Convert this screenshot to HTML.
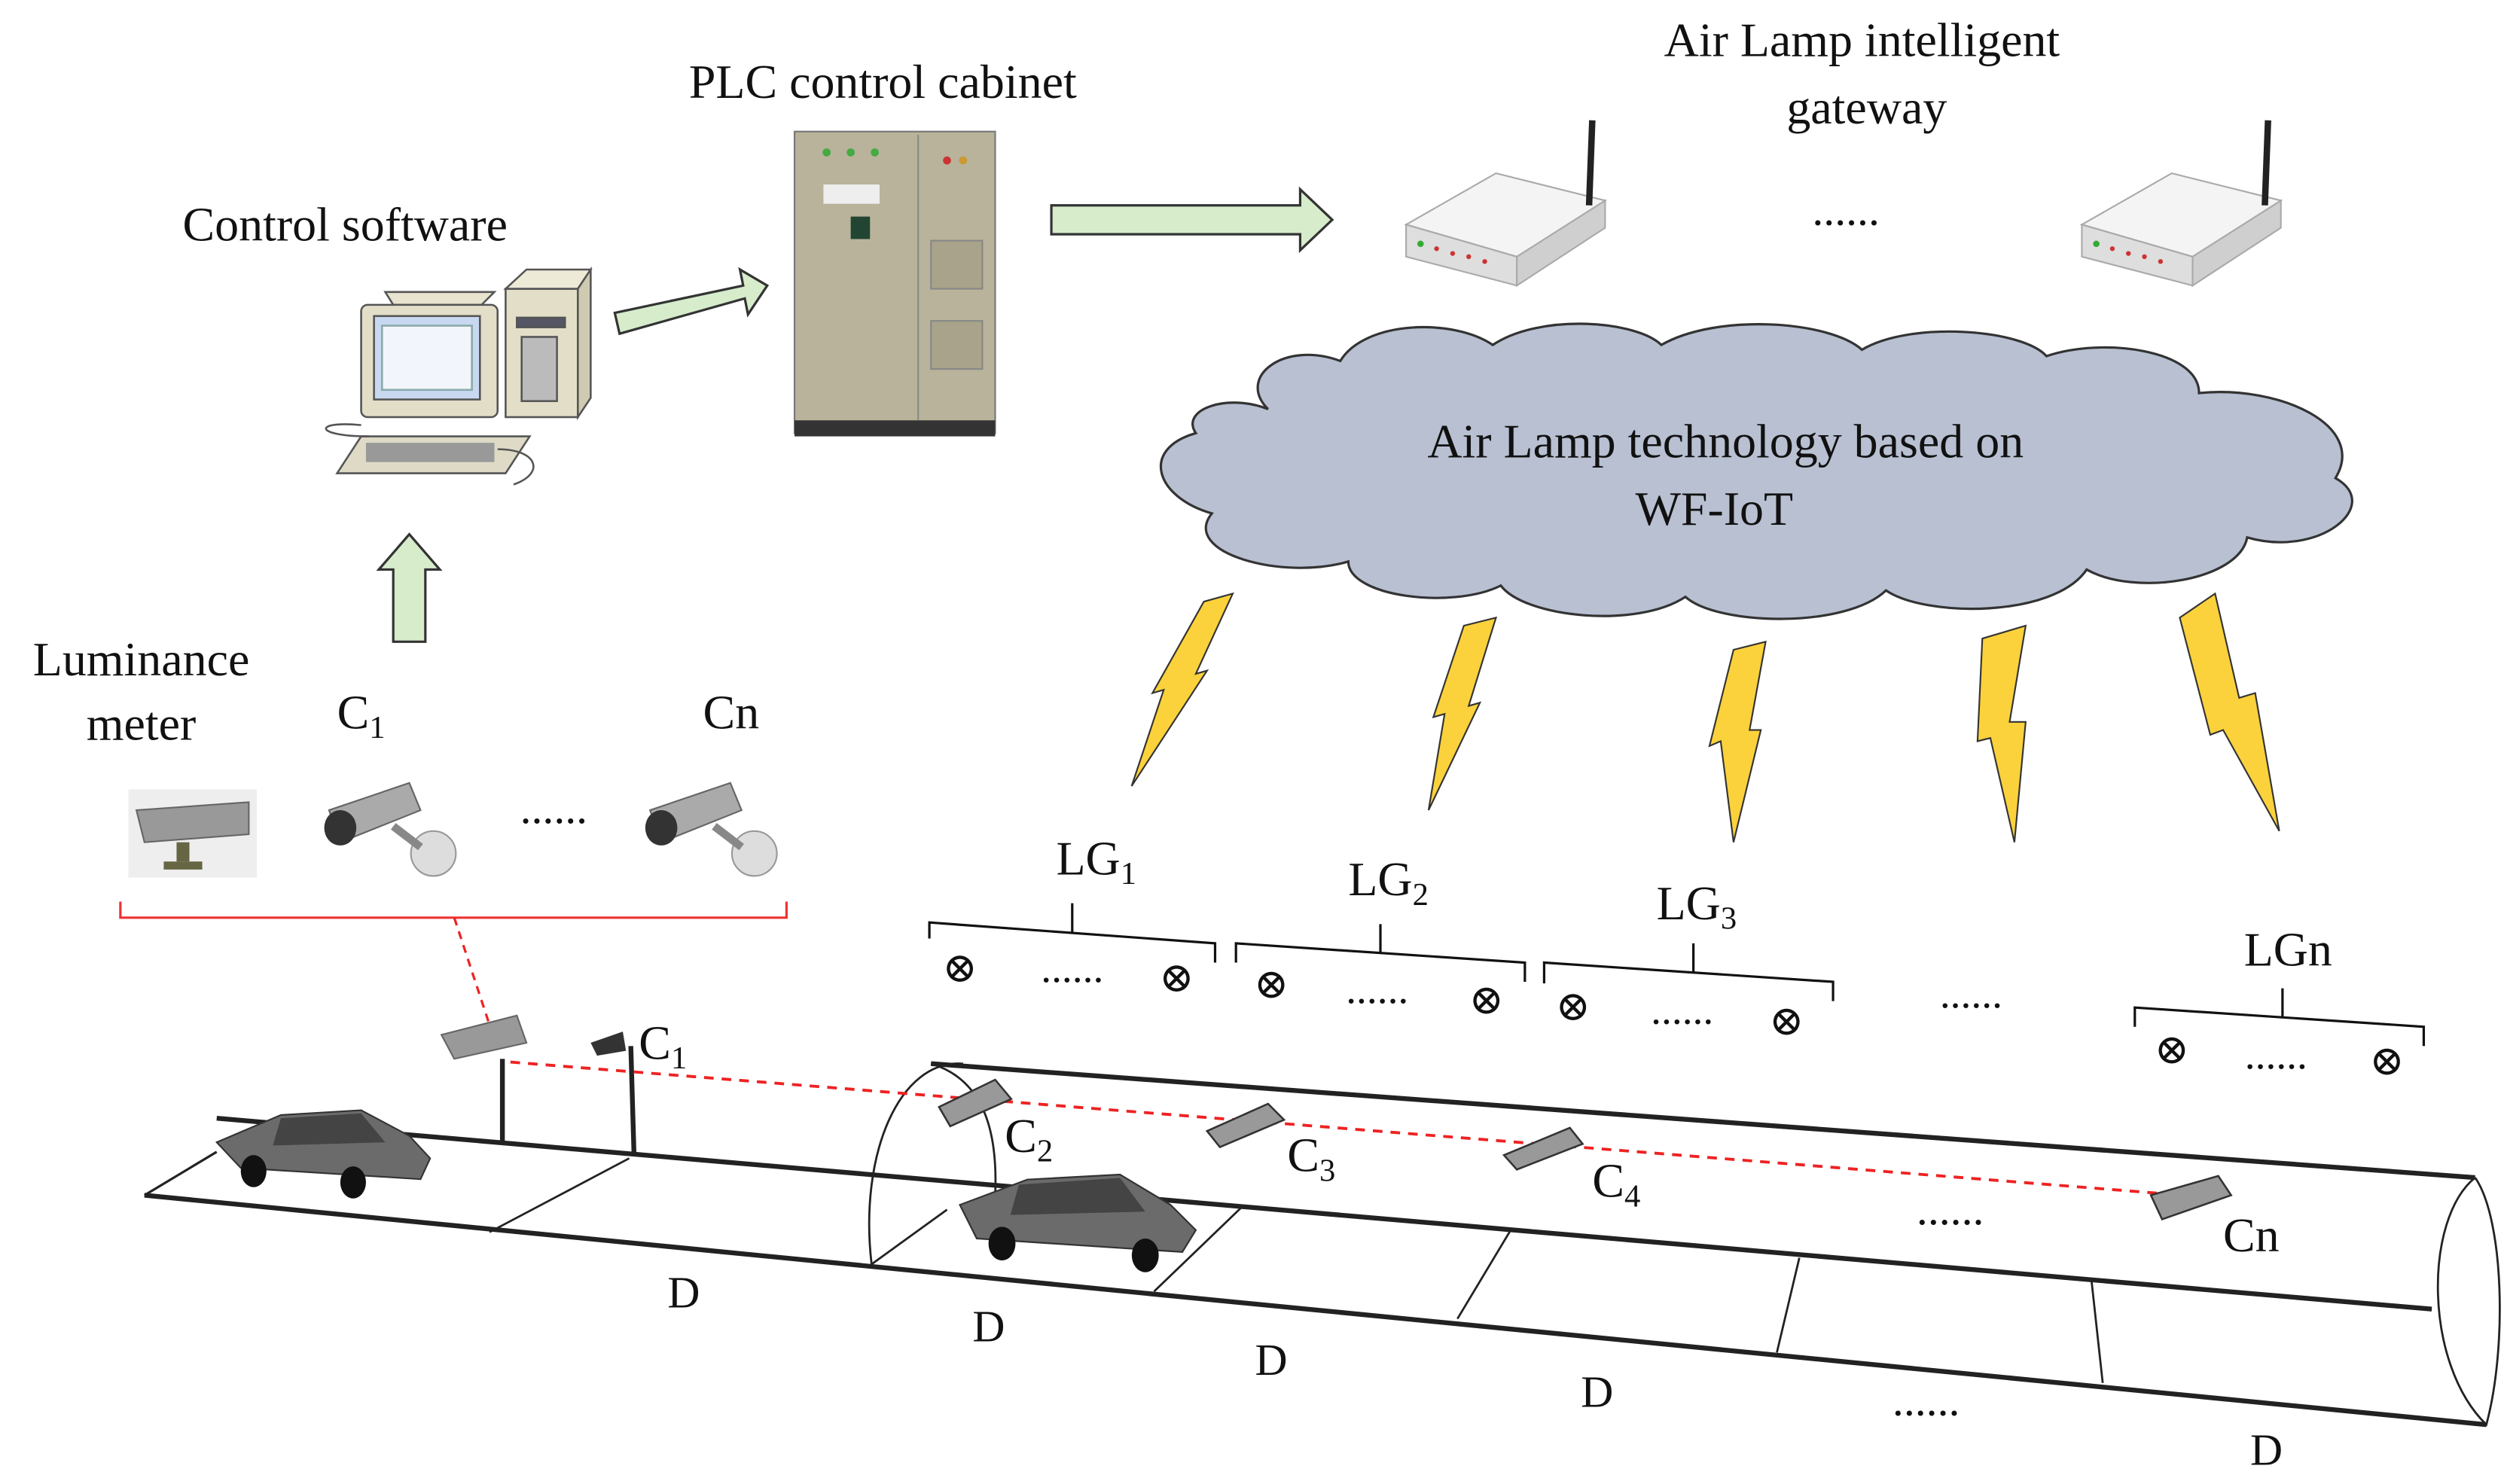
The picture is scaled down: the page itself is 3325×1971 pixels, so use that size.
<!DOCTYPE html>
<html><head><meta charset="utf-8"><style>
html,body{margin:0;padding:0;background:#fff;width:3325px;height:1971px;overflow:hidden}
svg{display:block}
svg text{font-family:"Liberation Serif","DejaVu Serif",serif;fill:#111}
</style></head><body>
<svg width="3325" height="1971" viewBox="0 0 1560 925" preserveAspectRatio="none" xmlns="http://www.w3.org/2000/svg" font-family="Liberation Serif, DejaVu Serif, serif">
<rect width="1560" height="925" fill="#fff"/>
<!-- titles -->
<text x="215" y="150" font-size="30" text-anchor="middle">Control software</text>
<text x="550" y="61" font-size="30" text-anchor="middle">PLC control cabinet</text>
<text x="1160" y="35" font-size="30" text-anchor="middle">Air Lamp intelligent</text>
<text x="1163" y="77" font-size="30" text-anchor="middle">gateway</text>
<text x="1150" y="140" font-size="28" text-anchor="middle">......</text>

<!-- computer -->
<g stroke="#555" stroke-width="1.2">
<path d="M245 190 L300 190 L308 182 L240 182 Z" fill="#e8e4d0"/>
<rect x="225" y="190" width="85" height="70" fill="#e2dec8" rx="4"/>
<rect x="233" y="197" width="66" height="52" fill="#c8d8f0"/>
<rect x="238" y="203" width="56" height="40" fill="#f2f5fb" stroke="#8aa"/>
<rect x="315" y="180" width="45" height="80" fill="#e2dec8"/>
<path d="M315 180 L328 168 L368 168 L360 180 Z" fill="#eeead8"/>
<path d="M360 180 L368 168 L368 248 L360 260Z" fill="#cfcab2"/>
<rect x="322" y="198" width="30" height="6" fill="#556"/>
<rect x="325" y="210" width="22" height="40" fill="#bbb"/>
<path d="M210 295 L225 272 L330 272 L315 295 Z" fill="#dedac6"/>
<rect x="228" y="276" width="80" height="12" fill="#999" stroke="none"/>
<path d="M225 265 C195 262 195 272 230 272 M310 280 C335 280 340 295 320 302" fill="none"/>
</g>
<!-- PLC -->
<rect x="495" y="82" width="125" height="188" fill="#b8b39a" stroke="#777"/>
<rect x="495" y="262" width="125" height="10" fill="#333"/>
<line x1="572" y1="84" x2="572" y2="262" stroke="#888"/>
<rect x="513" y="115" width="35" height="12" fill="#eee"/>
<rect x="530" y="135" width="12" height="14" fill="#243"/>
<rect x="580" y="150" width="32" height="30" fill="#a8a38a" stroke="#888"/>
<rect x="580" y="200" width="32" height="30" fill="#a8a38a" stroke="#888"/>
<g fill="#4a4">
<circle cx="515" cy="95" r="2.5"/><circle cx="530" cy="95" r="2.5"/><circle cx="545" cy="95" r="2.5"/><circle cx="590" cy="100" r="2.5" fill="#c33"/><circle cx="600" cy="100" r="2.5" fill="#c93"/></g>

<!-- green arrows -->
<g fill="#d6eccb" stroke="#333" stroke-width="1.5">
<path d="M383 195 L463 178 L461 168 L478 178 L466 196 L464 186 L386 208 Z"/>
<path d="M655 128 L810 128 L810 118 L830 137 L810 156 L810 146 L655 146 Z"/>
<path d="M245 400 L245 355 L236 355 L255 333 L274 355 L265 355 L265 400 Z"/>
</g>

<!-- routers -->
<g>
<path d="M876 140 L932 108 L1000 125 L945 160 Z" fill="#f4f4f4" stroke="#aaa"/>
<path d="M876 140 L945 160 L945 178 L876 160 Z" fill="#dedede" stroke="#aaa"/>
<path d="M945 160 L1000 125 L1000 142 L945 178 Z" fill="#cfcfcf" stroke="#aaa"/>
<line x1="990" y1="128" x2="992" y2="75" stroke="#222" stroke-width="4"/>
<g fill="#c33"><circle cx="895" cy="155" r="1.5"/><circle cx="905" cy="158" r="1.5"/><circle cx="915" cy="160" r="1.5"/><circle cx="925" cy="163" r="1.5"/></g>
<circle cx="885" cy="152" r="2" fill="#3a3"/>
</g>
<g transform="translate(421,0)">
<path d="M876 140 L932 108 L1000 125 L945 160 Z" fill="#f4f4f4" stroke="#aaa"/>
<path d="M876 140 L945 160 L945 178 L876 160 Z" fill="#dedede" stroke="#aaa"/>
<path d="M945 160 L1000 125 L1000 142 L945 178 Z" fill="#cfcfcf" stroke="#aaa"/>
<line x1="990" y1="128" x2="992" y2="75" stroke="#222" stroke-width="4"/>
<g fill="#c33"><circle cx="895" cy="155" r="1.5"/><circle cx="905" cy="158" r="1.5"/><circle cx="915" cy="160" r="1.5"/><circle cx="925" cy="163" r="1.5"/></g>
<circle cx="885" cy="152" r="2" fill="#3a3"/>
</g>

<!-- cloud -->
<path d="M790 255 C770 235 800 212 835 225 C850 200 905 198 930 215 C960 195 1020 200 1035 215 C1070 195 1140 200 1160 218 C1190 200 1260 205 1275 222 C1310 210 1370 218 1370 245 C1420 240 1475 265 1455 298 C1485 315 1445 348 1400 335 C1395 362 1330 372 1300 355 C1280 385 1200 385 1175 368 C1150 392 1070 390 1050 372 C1020 392 950 385 935 365 C905 380 840 372 840 350 C800 362 735 345 755 320 C720 310 710 280 745 270 C735 255 765 245 790 255 Z" fill="#b8c0d2" stroke="#333" stroke-width="1.5"/>
<text x="1075" y="285" font-size="30" text-anchor="middle">Air Lamp technology based on</text>
<text x="1068" y="327" font-size="30" text-anchor="middle">WF-IoT</text>

<!-- lightning -->
<g fill="#fbd23c" stroke="#333" stroke-width="1">
<path d="M750 375 L768 370 L745 420 L752 418 L705 490 L725 430 L718 432 Z"/>
<path d="M912 390 L932 385 L915 440 L922 438 L890 505 L900 445 L893 447 Z"/>
<path d="M1080 405 L1100 400 L1090 455 L1097 455 L1080 525 L1072 462 L1065 465 Z"/>
<path d="M1235 398 L1262 390 L1252 450 L1262 450 L1255 525 L1240 460 L1232 462 Z"/>
<path d="M1358 385 L1380 370 L1395 435 L1405 432 L1420 518 L1385 455 L1377 458 Z"/>
</g>

<!-- left sensors -->
<text x="88" y="421" font-size="30" text-anchor="middle">Luminance</text>
<text x="88" y="461" font-size="30" text-anchor="middle">meter</text>
<text x="210" y="454" font-size="30">C<tspan font-size="20" dy="6">1</tspan></text>
<text x="438" y="454" font-size="30">Cn</text>
<text x="345" y="513" font-size="28" text-anchor="middle">......</text>
<rect x="80" y="492" width="80" height="55" fill="#eee"/>
<path d="M85 505 L155 500 L155 520 L90 525 Z" fill="#999" stroke="#666"/>
<rect x="110" y="525" width="8" height="12" fill="#664"/><rect x="102" y="537" width="24" height="5" fill="#664"/>
<g id="cam">
<path d="M205 505 L255 488 L262 505 L212 525 Z" fill="#aaa" stroke="#666"/>
<ellipse cx="212" cy="516" rx="10" ry="11" fill="#333"/>
<circle cx="270" cy="532" r="14" fill="#ddd" stroke="#999"/>
<line x1="245" y1="515" x2="262" y2="528" stroke="#888" stroke-width="5"/>
</g>
<use href="#cam" transform="translate(200,0)"/>
<path d="M75 562 L75 572 L490 572 L490 562" fill="none" stroke="#e33" stroke-width="1.5"/>
<line x1="283" y1="572" x2="308" y2="648" stroke="#e22" stroke-width="1.5" stroke-dasharray="5,4"/>

<!-- LG groups -->
<g stroke="#111" stroke-width="1.5" fill="none">
<path d="M579 585 L579 575 L757 588 L757 600 M668 581 L668 563"/>
<path d="M770 600 L770 588 L950 600 L950 612 M860 594 L860 576"/>
<path d="M962 613 L962 600 L1142 612 L1142 624 M1055 606 L1055 588"/>
<path d="M1330 640 L1330 628 L1510 640 L1510 652 M1422 634 L1422 616"/>
</g>
<text x="658" y="545" font-size="30">LG<tspan font-size="20" dy="6">1</tspan></text>
<text x="840" y="558" font-size="30">LG<tspan font-size="20" dy="6">2</tspan></text>
<text x="1032" y="573" font-size="30">LG<tspan font-size="20" dy="6">3</tspan></text>
<text x="1398" y="602" font-size="30">LGn</text>
<g font-size="26" text-anchor="middle">
<text x="598" y="612">⊗</text><text x="668" y="612">......</text><text x="733" y="618">⊗</text>
<text x="792" y="622">⊗</text><text x="858" y="625">......</text><text x="926" y="632">⊗</text>
<text x="980" y="636">⊗</text><text x="1048" y="638">......</text><text x="1113" y="645">⊗</text>
<text x="1228" y="628">......</text>
<text x="1353" y="663">⊗</text><text x="1418" y="666">......</text><text x="1487" y="670">⊗</text>
</g>

<!-- road -->
<g stroke="#222" fill="none">
<line x1="90" y1="745" x2="1549" y2="888" stroke-width="3"/>
<line x1="135" y1="697" x2="1515" y2="816" stroke-width="3"/>
<line x1="90" y1="745" x2="135" y2="718" stroke-width="1.5"/>
<line x1="580" y1="663" x2="1542" y2="734" stroke-width="3"/>
<path d="M600 663 C560 660 535 720 543 788" stroke-width="1.3"/>
<path d="M580 663 C610 672 622 700 620 745" stroke-width="1.3"/>
<path d="M1542 734 C1510 760 1510 850 1549 888 C1562 840 1560 760 1542 734" stroke-width="1.3"/>
<line x1="305" y1="768" x2="392" y2="722" stroke-width="1.3"/>
<line x1="543" y1="788" x2="590" y2="754" stroke-width="1.3"/>
<line x1="719" y1="805" x2="773" y2="753" stroke-width="1.3"/>
<line x1="908" y1="822" x2="941" y2="767" stroke-width="1.3"/>
<line x1="1107" y1="843" x2="1121" y2="784" stroke-width="1.3"/>
<line x1="1310" y1="862" x2="1303" y2="798" stroke-width="1.3"/>
<line x1="313" y1="660" x2="313" y2="713" stroke-width="3"/>
<line x1="393" y1="652" x2="395" y2="720" stroke-width="3"/>
</g>
<path d="M275 645 L322 633 L328 650 L283 660 Z" fill="#999" stroke="#666"/>
<path d="M368 650 L388 643 L390 655 L372 658 Z" fill="#333"/>
<text x="398" y="660" font-size="30">C<tspan font-size="20" dy="6">1</tspan></text>
<line x1="318" y1="662" x2="1360" y2="745" stroke="#e22" stroke-width="1.8" stroke-dasharray="6,5"/>
<g fill="#999" stroke="#333" stroke-width="1.2">
<path d="M585 690 L620 673 L630 685 L592 702 Z"/>
<path d="M752 705 L790 688 L800 698 L760 715 Z"/>
<path d="M937 720 L978 703 L986 713 L945 729 Z"/>
<path d="M1340 745 L1382 733 L1390 745 L1347 760 Z"/>
</g>
<text x="626" y="718" font-size="30">C<tspan font-size="20" dy="6">2</tspan></text>
<text x="802" y="730" font-size="30">C<tspan font-size="20" dy="6">3</tspan></text>
<text x="992" y="746" font-size="30">C<tspan font-size="20" dy="6">4</tspan></text>
<text x="1385" y="780" font-size="30">Cn</text>
<g font-size="28" text-anchor="middle">
<text x="426" y="815">D</text><text x="616" y="836">D</text><text x="792" y="857">D</text>
<text x="995" y="877">D</text><text x="1412" y="913">D</text>
<text x="1215" y="763">......</text><text x="1200" y="882">......</text>
</g>
<!-- cars -->
<g id="car">
<path d="M135 712 L175 695 L225 692 L255 708 L268 722 L262 735 L150 728 Z" fill="#6b6b6b" stroke="#333"/>
<path d="M175 697 L225 694 L240 712 L170 714 Z" fill="#444"/>
<ellipse cx="158" cy="730" rx="8" ry="10" fill="#111"/>
<ellipse cx="220" cy="737" rx="8" ry="10" fill="#111"/>
</g>
<g transform="translate(598,730) scale(1.05)">
<path d="M0 20 L40 5 L95 2 L125 20 L140 35 L132 48 L10 40 Z" fill="#6b6b6b" stroke="#333"/>
<path d="M35 8 L95 4 L110 24 L30 26 Z" fill="#444"/>
<ellipse cx="25" cy="43" rx="8" ry="10" fill="#111"/>
<ellipse cx="110" cy="50" rx="8" ry="10" fill="#111"/>
</g>
</svg>
</body></html>
